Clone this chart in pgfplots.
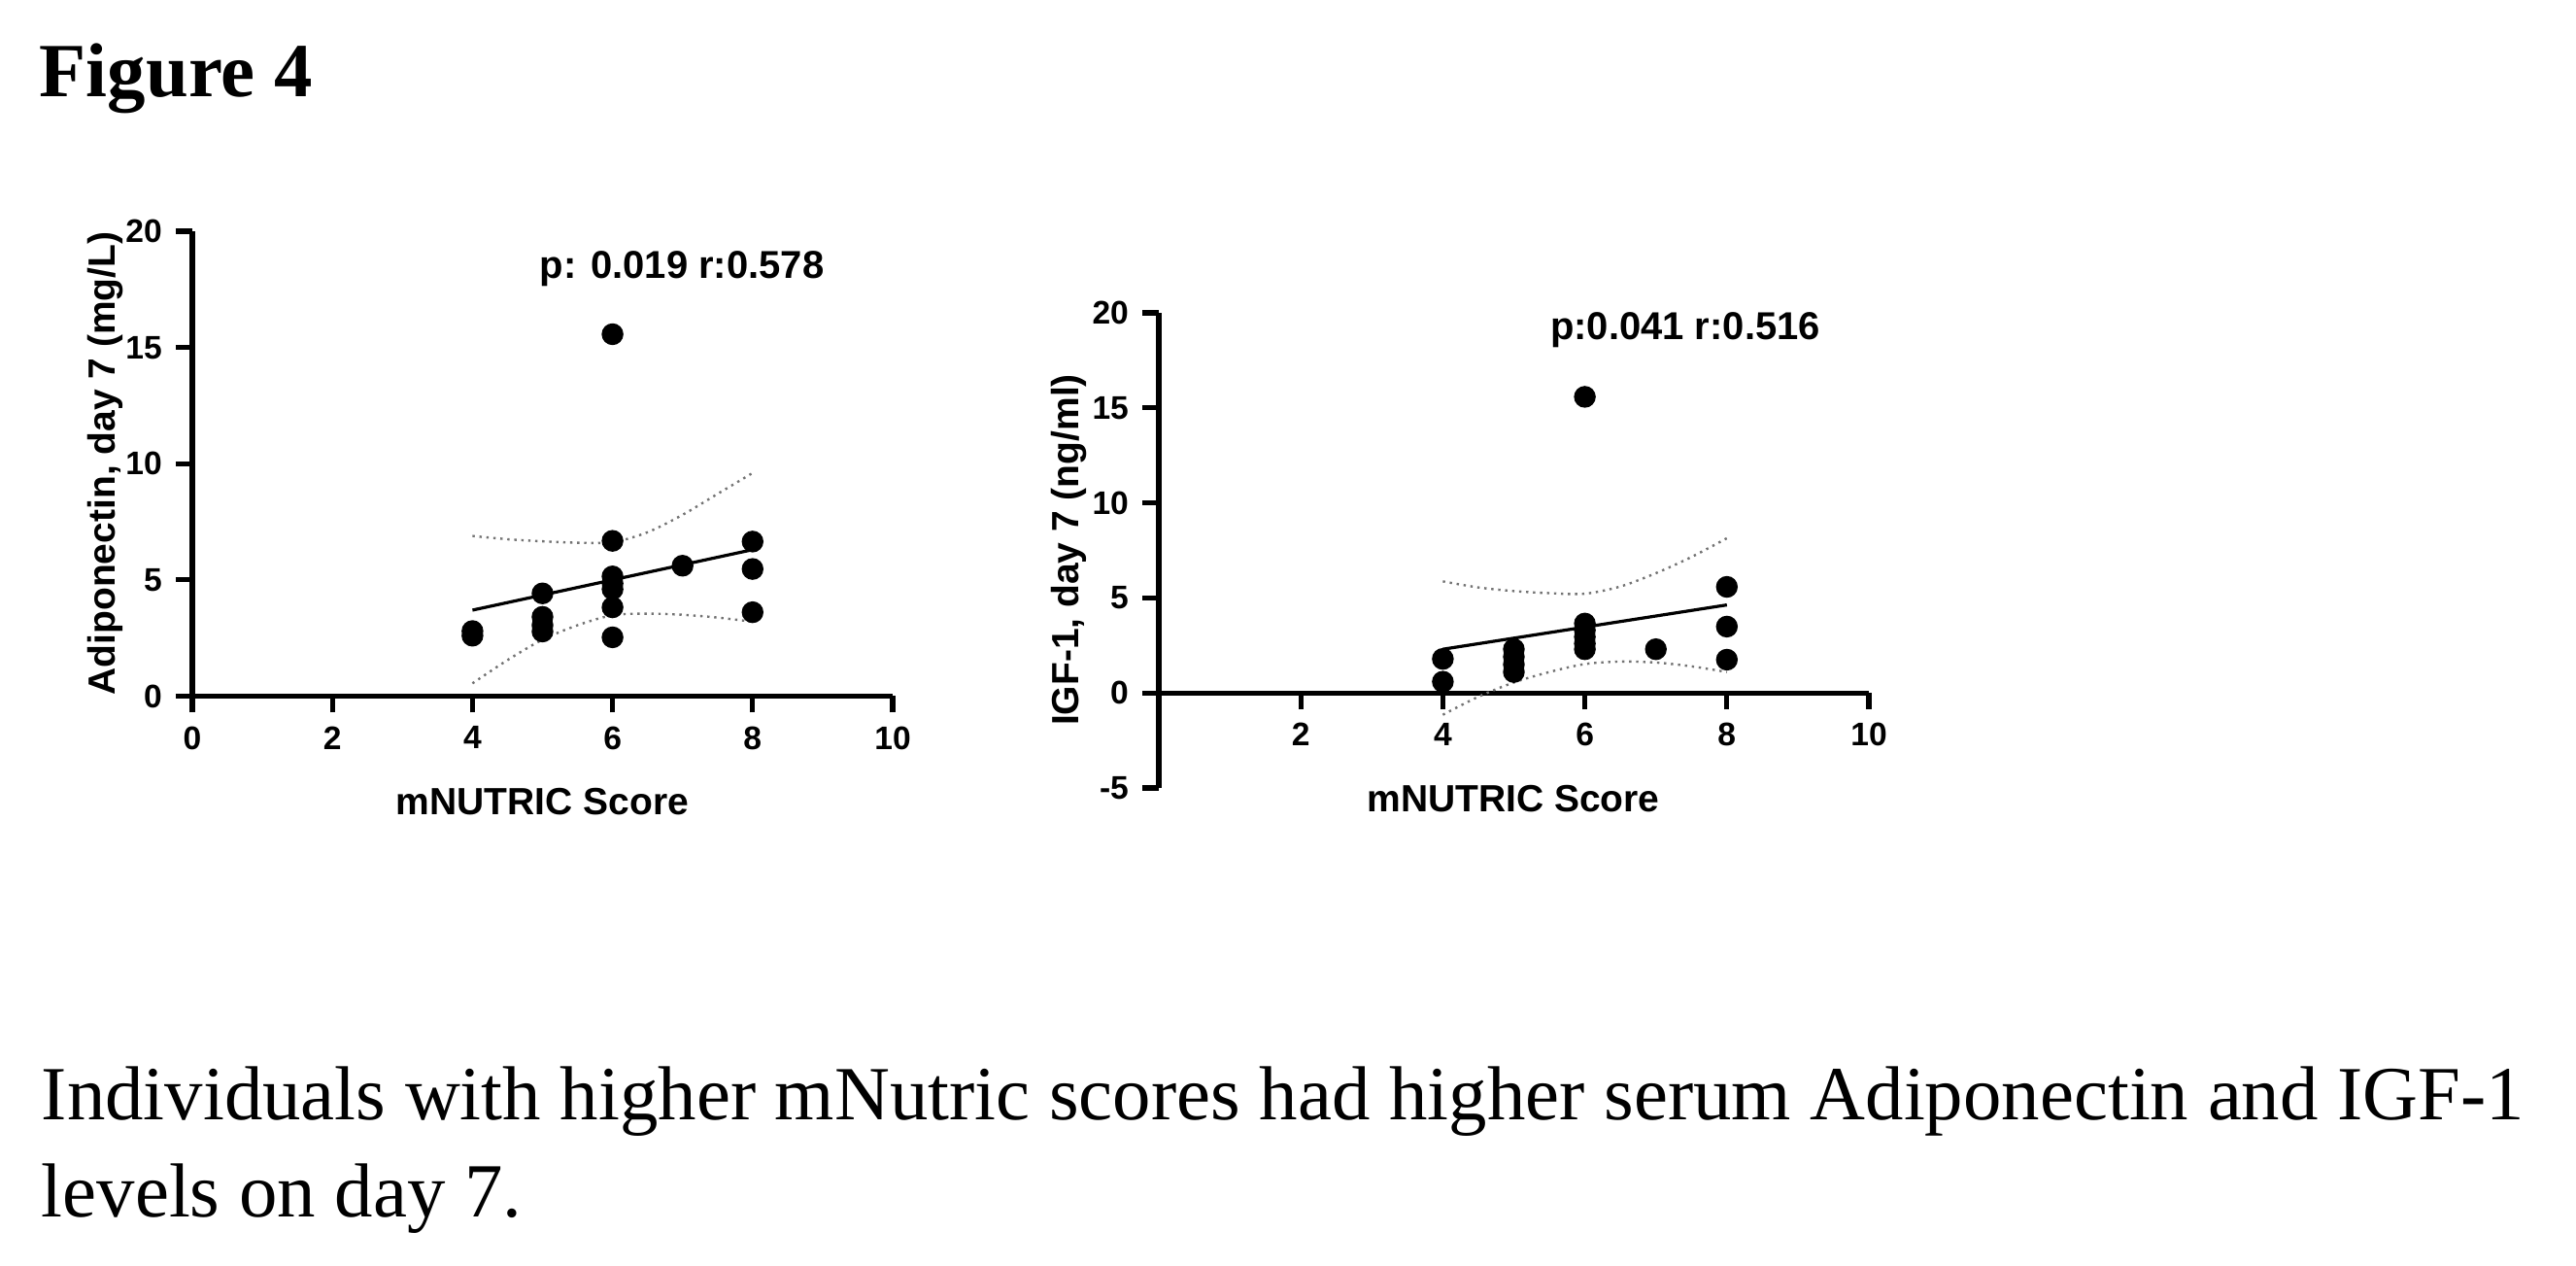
\documentclass[border=0pt]{standalone}
\usepackage{fontspec}
\setmainfont{Liberation Serif}
\newfontfamily\arial{Liberation Sans}
\usepackage{pgfplots}
\pgfplotsset{compat=1.18}

% 1 px of the reference = 0.25pt
\pgfplotsset{
 prism/.style={
  scale only axis, clip=false,
  axis line style={line width=1.3pt,-},
  tick style={black,line width=1.3pt},
  major tick length=4.25pt,
  tick align=outside,
  ticklabel style={font=\arial\bfseries\fontsize{8.4}{10}\selectfont},
  /pgf/number format/assume math mode=true,
  hide obscured x ticks=false, hide obscured y ticks=false,
 },
 pts/.style={only marks, mark=*, mark size=2.6pt, black, mark options={fill=black}},
 fit/.style={black, line width=0.8pt, no marks},
 ci/.style={black!55, line width=0.6pt, dash pattern=on 0.6pt off 1.2pt, smooth, no marks},
}

\begin{document}
\begin{tikzpicture}
\path[use as bounding box] (0,0) rectangle (663pt,325.75pt);

\node[anchor=base west, inner sep=0, font=\fontsize{19.7}{23}\selectfont\bfseries] at (10pt,300.75pt) {Figure 4};

% left panel: adiponectin
\begin{axis}[prism,
 at={(49.5pt,146.625pt)}, anchor=south west,
 width=180.25pt, height=119.625pt,
 xmin=0, xmax=10, ymin=0, ymax=20,
 axis x line*=middle, axis y line*=left,
 xtick={0,2,4,6,8,10}, ytick={0,5,10,15,20},
]
\addplot[ci] coordinates {(4,6.89) (4.5,6.75) (5,6.66) (5.5,6.6) (6,6.62) (6.5,7.05) (7,7.8) (7.5,8.7) (8,9.6)};
\addplot[ci] coordinates {(4,0.55) (4.5,1.55) (5,2.43) (5.5,3.05) (6,3.48) (6.5,3.55) (7,3.5) (7.5,3.38) (8,3.2)};
\addplot[fit] coordinates {(4,3.70) (8,6.30)};
\addplot[pts] coordinates {
 (4,2.6) (4,2.8)
 (5,4.42) (5,3.41) (5,3.05) (5,2.78)
 (6,15.57) (6,6.68) (6,5.15) (6,4.85) (6,4.6) (6,3.82) (6,2.53)
 (7,5.61)
 (8,6.65) (8,5.47) (8,3.61)};
\end{axis}

% right panel: IGF-1
\begin{axis}[prism,
 at={(298.25pt,123pt)}, anchor=south west,
 width=182.75pt, height=122.25pt,
 xmin=0, xmax=10, ymin=-5, ymax=20,
 axis x line*=middle, axis y line*=left,
 xtick={2,4,6,8,10}, ytick={-5,0,5,10,15,20},
]
\addplot[ci] coordinates {(4,5.87) (4.5,5.55) (5,5.36) (5.5,5.25) (6,5.22) (6.5,5.6) (7,6.3) (7.5,7.15) (8,8.14)};
\addplot[ci] coordinates {(4,-1.15) (4.5,-0.2) (5,0.55) (5.5,1.1) (6,1.52) (6.5,1.65) (7,1.6) (7.5,1.4) (8,1.1)};
\addplot[fit] coordinates {(4,2.3) (8,4.63)};
\addplot[pts] coordinates {
 (4,1.79) (4,0.59)
 (5,2.3) (5,1.9) (5,1.5) (5,1.1)
 (6,15.58) (6,3.65) (6,3.3) (6,2.95) (6,2.6) (6,2.3)
 (7,2.3)
 (8,5.58) (8,3.49) (8,1.75)};
\end{axis}

% panel texts
\begin{scope}[every node/.style={font=\arial\bfseries\fontsize{9.75}{11}\selectfont, inner sep=0}]
\node[anchor=base] at (139.6pt,116pt) {mNUTRIC Score};
\node[anchor=base] at (389.5pt,116.75pt) {mNUTRIC Score};
\node[anchor=base, rotate=90] at (29.5pt,206.5pt) {Adiponectin, day 7 (mg/L)};
\node[anchor=base, rotate=90] at (277.5pt,184.25pt) {IGF-1, day 7 (ng/ml)};
\node[anchor=base, font=\arial\bfseries\fontsize{10}{12}\selectfont] at (175.5pt,254pt) {p: 0.019 r:0.578};
\node[anchor=base, font=\arial\bfseries\fontsize{10}{12}\selectfont] at (433.75pt,238.25pt) {p:0.041 r:0.516};
\end{scope}

% caption
\node[anchor=base west, inner sep=0, font=\fontsize{19.7}{23}\selectfont] at (10.5pt,37.5pt) {Individuals with higher mNutric scores had higher serum Adiponectin and IGF-1};
\node[anchor=base west, inner sep=0, font=\fontsize{19.7}{23}\selectfont] at (10.5pt,12.5pt) {levels on day 7.};
\end{tikzpicture}
\end{document}
